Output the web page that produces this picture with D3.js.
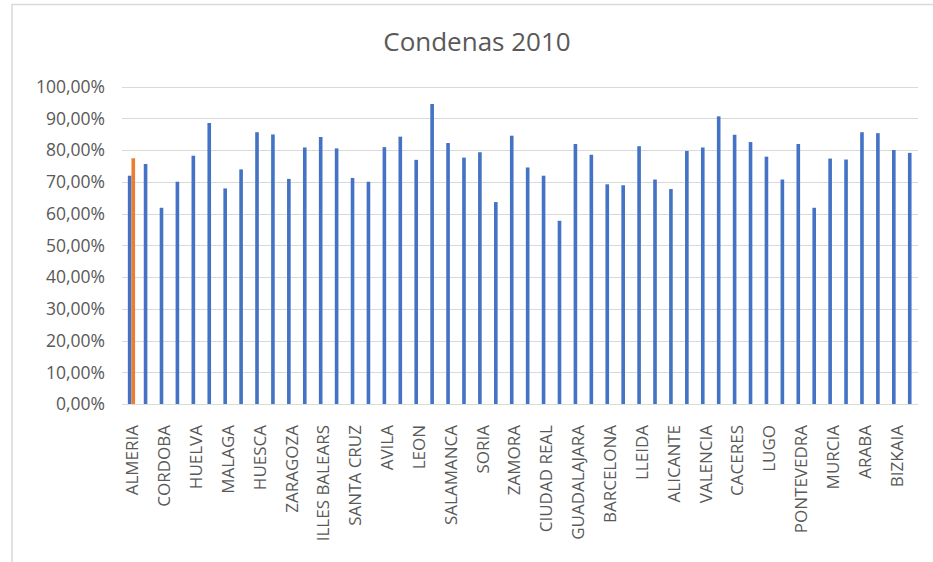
<!DOCTYPE html>
<html>
<head>
<meta charset="utf-8">
<script src="https://cdn.jsdelivr.net/npm/d3@7/dist/d3.min.js"></script>
<style>
  html, body { margin: 0; padding: 0; background: #fff; }
  svg { display: block; }
  text { font-family: "Open Sans", "Liberation Sans", sans-serif; fill: #595959; }
</style>
</head>
<body>
<svg id="chart" width="933" height="562"></svg>
<script>
// ---- data ----
const title = "Condenas 2010";
const categories = [
  "ALMERIA","CADIZ","CORDOBA","GRANADA","HUELVA","JAEN","MALAGA","SEVILLA",
  "HUESCA","TERUEL","ZARAGOZA","ASTURIAS","ILLES BALEARS","LAS PALMAS","SANTA CRUZ","CANTABRIA",
  "AVILA","BURGOS","LEON","PALENCIA","SALAMANCA","SEGOVIA","SORIA","VALLADOLID","ZAMORA",
  "ALBACETE","CIUDAD REAL","CUENCA","GUADALAJARA","TOLEDO",
  "BARCELONA","GIRONA","LLEIDA","TARRAGONA","ALICANTE","CASTELLON","VALENCIA",
  "BADAJOZ","CACERES","CORUÑA","LUGO","OURENSE","PONTEVEDRA","MADRID","MURCIA","NAVARRA",
  "ARABA","GUIPUZCOA","BIZKAIA","LA RIOJA"
];
const seriesMain = [
  0.719,0.756,0.618,0.700,0.782,0.885,0.679,0.739,
  0.856,0.849,0.709,0.808,0.841,0.805,0.712,0.700,
  0.809,0.842,0.769,0.945,0.822,0.776,0.793,0.636,0.845,
  0.745,0.719,0.577,0.819,0.785,
  0.692,0.689,0.812,0.707,0.677,0.797,0.808,
  0.906,0.848,0.825,0.779,0.707,0.819,0.618,0.773,0.770,
  0.856,0.853,0.800,0.791
];
const seriesHighlight = [0.774].concat(new Array(49).fill(null));
const yTicks = [0,0.1,0.2,0.3,0.4,0.5,0.6,0.7,0.8,0.9,1.0];

// ---- layout ----
const svg = d3.select("#chart");
const plotLeft = 123.5, plotRight = 919.5, plotTop = 86.5, plotBottom = 404;

// chart border
svg.append("path")
  .attr("d", `M12,562 L12,4.5 L933,4.5`)
  .attr("fill", "none").attr("stroke", "#d9d9d9").attr("stroke-width", 1.5);

const x = d3.scaleBand().domain(categories).range([plotLeft, plotRight]).paddingInner(0).paddingOuter(0);
const xs = d3.scaleBand().domain(["main","hl"]).range([0, x.bandwidth()]).paddingInner(0).paddingOuter(1.2);
const y = d3.scaleLinear().domain([0, 1]).range([plotBottom, plotTop]);

const locale = d3.formatLocale({decimal: ",", thousands: ".", grouping: [3], currency: ["", "€"]});
const fmt = locale.format(".2%");

// gridlines
svg.append("g").selectAll("line").data(yTicks.filter(d => d > 0)).join("line")
  .attr("x1", plotLeft - 1.5).attr("x2", plotRight - 1.5)
  .attr("y1", d => Math.round(y(d)) + 0.5).attr("y2", d => Math.round(y(d)) + 0.5)
  .attr("stroke", "#d9d9d9").attr("stroke-width", 1);

// y axis labels
const yAxis = d3.axisLeft(y).tickValues(yTicks).tickFormat(fmt).tickSize(0).tickPadding(0);
const gy = svg.append("g").attr("transform", `translate(105,0)`).call(yAxis);
gy.select(".domain").remove();
gy.selectAll("text").style("font-size", "17.5px").attr("fill", "#595959").attr("dy", "0.34em");

// bars
svg.append("g").selectAll("rect").data(categories.map((c, i) => ({c, v: seriesMain[i]}))).join("rect")
  .attr("x", d => x(d.c) + xs("main"))
  .attr("width", xs.bandwidth())
  .attr("y", d => y(d.v))
  .attr("height", d => y(0) - y(d.v))
  .attr("fill", "#4472C4");

svg.append("g").selectAll("rect").data(categories.map((c, i) => ({c, v: seriesHighlight[i]})).filter(d => d.v != null)).join("rect")
  .attr("x", d => x(d.c) + xs("hl"))
  .attr("width", xs.bandwidth())
  .attr("y", d => y(d.v))
  .attr("height", d => y(0) - y(d.v))
  .attr("fill", "#ED7D31");

// x axis line
svg.append("line")
  .attr("x1", plotLeft - 1.5).attr("x2", plotRight - 1.5)
  .attr("y1", plotBottom + 0.5).attr("y2", plotBottom + 0.5)
  .attr("stroke", "#d9d9d9").attr("stroke-width", 1);

// x axis labels (every other category)
const xAxis = d3.axisBottom(x).tickValues(categories.filter((d, i) => i % 2 === 0)).tickSize(0).tickPadding(0);
const gx = svg.append("g").attr("transform", `translate(0,${plotBottom})`).call(xAxis);
gx.select(".domain").remove();
gx.selectAll("text")
  .style("font-size", "17px")
  .attr("fill", "#595959")
  .attr("text-anchor", "end")
  .attr("transform", "translate(1,21) rotate(-90)")
  .attr("x", 0).attr("y", 0).attr("dy", "0.35em");

// title
svg.append("text")
  .attr("x", 477).attr("y", 51)
  .attr("text-anchor", "middle")
  .style("font-size", "26px")
  .attr("fill", "#595959")
  .text(title);
</script>
</body>
</html>
